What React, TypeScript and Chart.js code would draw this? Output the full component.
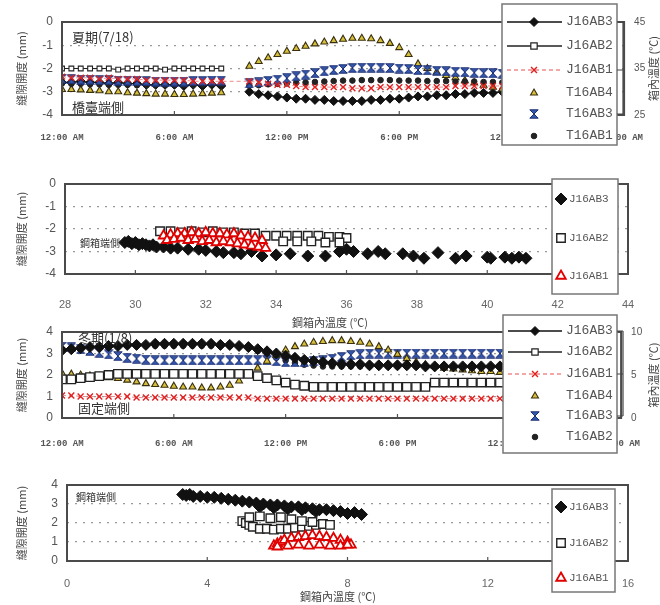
import React, { useEffect, useRef } from "react";
import { Chart, registerables } from "chart.js";

Chart.register(...registerables);

// ---------------- data ----------------
const HOURS = [0, 0.5, 1, 1.5, 2, 2.5, 3, 3.5, 4, 4.5, 5, 5.5, 6, 6.5, 7, 7.5, 8, 8.5, 9, 9.5, 10, 10.5, 11, 11.5, 12, 12.5, 13, 13.5, 14, 14.5, 15, 15.5, 16, 16.5, 17, 17.5, 18, 18.5, 19, 19.5, 20, 20.5, 21, 21.5, 22, 22.5, 23, 23.5, 24];
const TIME_TICK_LABELS = ["12:00 AM", "6:00 AM", "12:00 PM", "6:00 PM", "12:00 AM", "6:00 AM"];

// Summer (7/18) time series — displacement (mm) on left axis, temperature (°C) on right axis
const SUMMER_J16AB3 = [-2.6, -2.6, -2.55, -2.6, -2.6, -2.65, -2.6, -2.65, -2.65, -2.7, -2.7, -2.7, -2.7, -2.75, -2.7, -2.75, -2.7, -2.75, null, null, -3.0, -3.1, -3.15, -3.2, -3.25, -3.3, -3.3, -3.35, -3.35, -3.4, -3.4, -3.4, -3.4, -3.35, -3.35, -3.3, -3.3, -3.25, -3.2, -3.2, -3.15, -3.15, -3.1, -3.1, -3.05, -3.05, -3.05, -3.0, -3.0];
const SUMMER_J16AB2 = [-2.0, -2.0, -2.0, -2.0, -2.0, -2.0, -2.05, -2.0, -2.0, -2.0, -2.0, -2.05, -2.0, -2.0, -2.0, -2.0, -2.0, -2.0, null, null, null, null, null, null, null, null, null, null, null, null, null, null, null, null, null, null, null, null, null, null, null, null, null, null, null, null, null, null, null];
const SUMMER_J16AB1 = [-2.35, -2.4, -2.4, -2.4, -2.45, -2.4, -2.45, -2.45, -2.45, -2.5, -2.5, -2.5, -2.5, -2.5, -2.55, -2.55, -2.55, -2.55, null, null, -2.55, -2.6, -2.65, -2.7, -2.7, -2.75, -2.8, -2.8, -2.8, -2.8, -2.8, -2.85, -2.85, -2.85, -2.8, -2.8, -2.8, -2.8, -2.8, -2.8, -2.8, -2.8, -2.75, -2.75, -2.75, -2.75, -2.75, -2.75, -2.75];
const SUMMER_T16AB4 = [30.5, 30.5, 30.4, 30.3, 30.2, 30.0, 30.0, 29.8, 29.7, 29.6, 29.5, 29.5, 29.4, 29.4, 29.5, 29.6, 29.7, 29.8, null, null, 35.5, 36.5, 37.3, 38.0, 38.7, 39.3, 39.8, 40.3, 40.7, 41.0, 41.3, 41.5, 41.5, 41.4, 41.0, 40.4, 39.5, 38.0, 36.0, 35.0, 34.2, 33.5, 33.0, 32.4, 31.9, 31.4, 31.0, 30.6, 30.3];
const SUMMER_T16AB3 = [32.8, 32.7, 32.6, 32.6, 32.5, 32.5, 32.4, 32.4, 32.3, 32.3, 32.2, 32.2, 32.2, 32.2, 32.3, 32.3, 32.4, 32.4, null, null, 31.8, 32.0, 32.3, 32.6, 32.9, 33.3, 33.7, 34.0, 34.4, 34.7, 34.9, 35.1, 35.2, 35.2, 35.2, 35.1, 35.0, 34.9, 34.7, 34.6, 34.5, 34.4, 34.3, 34.2, 34.1, 34.0, 34.0, 33.9, 33.8];
const SUMMER_T16AB1 = [31.8, 31.7, 31.7, 31.6, 31.6, 31.5, 31.5, 31.5, 31.4, 31.4, 31.4, 31.4, 31.4, 31.5, 31.5, 31.5, 31.6, 31.6, null, null, 31.3, 31.4, 31.6, 31.7, 31.8, 31.9, 32.0, 32.1, 32.2, 32.3, 32.4, 32.4, 32.5, 32.5, 32.5, 32.5, 32.4, 32.4, 32.4, 32.3, 32.3, 32.3, 32.2, 32.2, 32.2, 32.1, 32.1, 32.0, 32.0];

// Summer scatter: box temperature (°C) vs displacement (mm)
const SUMMER_J16AB3_TEMP = [29.7, 29.8, 29.9, 30.0, 30.1, 30.2, 30.3, 30.4, 30.5, 30.6, 30.8, 31.0, 31.2, 31.5, 31.8, 32.0, 32.3, 32.5, 32.8, 33.0, 33.3, 33.6, 34.0, 34.4, 34.9, 35.4, 35.8, 36.0, 36.2, 36.6, 36.9, 37.1, 37.6, 37.9, 38.2, 38.6, 39.1, 39.4, 40.0, 40.1, 40.5, 40.7, 40.9, 41.1];
const SUMMER_J16AB3_DISP = [-2.6, -2.55, -2.65, -2.6, -2.7, -2.65, -2.7, -2.75, -2.7, -2.8, -2.8, -2.85, -2.85, -2.9, -2.9, -2.95, -3.0, -3.05, -3.05, -3.1, -3.0, -3.2, -3.15, -3.1, -3.2, -3.2, -3.0, -2.9, -3.0, -3.1, -3.0, -3.1, -3.1, -3.2, -3.3, -3.05, -3.3, -3.2, -3.25, -3.3, -3.25, -3.3, -3.25, -3.3];
const SUMMER_J16AB2_TEMP = [30.7, 31.0, 31.3, 31.6, 31.9, 32.2, 32.5, 32.8, 33.1, 33.4, 33.7, 34.0, 34.3, 34.6, 34.9, 35.2, 35.5, 35.8, 36.0, 34.2, 34.6, 35.0, 35.4, 35.8];
const SUMMER_J16AB2_DISP = [-2.1, -2.1, -2.15, -2.1, -2.15, -2.1, -2.15, -2.15, -2.2, -2.2, -2.3, -2.3, -2.3, -2.3, -2.3, -2.3, -2.35, -2.35, -2.4, -2.55, -2.55, -2.55, -2.6, -2.6];
const SUMMER_J16AB1_TEMP = [30.8, 31.0, 31.2, 31.4, 31.6, 31.8, 32.0, 32.2, 32.4, 32.6, 32.8, 33.0, 33.2, 33.4, 33.6, 30.9, 31.1, 31.3, 31.5, 31.7, 31.9, 32.1, 32.3, 32.5, 32.7, 32.9, 33.1, 33.3, 33.5, 33.7];
const SUMMER_J16AB1_DISP = [-2.3, -2.25, -2.2, -2.2, -2.15, -2.2, -2.15, -2.2, -2.2, -2.25, -2.2, -2.3, -2.35, -2.4, -2.5, -2.5, -2.45, -2.4, -2.5, -2.45, -2.55, -2.5, -2.6, -2.55, -2.6, -2.65, -2.7, -2.75, -2.8, -2.85];

// Winter (1/8) time series
const WINTER_J16AB3 = [3.15, 3.2, 3.25, 3.3, 3.3, 3.35, 3.35, 3.4, 3.4, 3.4, 3.45, 3.45, 3.45, 3.45, 3.45, 3.45, 3.45, 3.4, 3.4, 3.35, 3.3, 3.2, 3.1, 3.0, 2.9, 2.8, 2.7, 2.65, 2.6, 2.55, 2.5, 2.5, 2.5, 2.45, 2.45, 2.45, 2.45, 2.45, 2.45, 2.4, 2.4, 2.4, 2.4, 2.4, 2.4, 2.4, 2.4, 2.4, 2.4];
const WINTER_J16AB2 = [1.8, 1.8, 1.85, 1.9, 1.95, 2.0, 2.05, 2.05, 2.05, 2.05, 2.05, 2.05, 2.05, 2.05, 2.05, 2.05, 2.05, 2.05, 2.05, 2.05, 2.05, 1.95, 1.85, 1.75, 1.65, 1.55, 1.5, 1.45, 1.45, 1.45, 1.45, 1.45, 1.45, 1.45, 1.45, 1.45, 1.45, 1.45, 1.45, 1.45, 1.65, 1.65, 1.65, 1.65, 1.65, 1.65, 1.65, 1.65, 1.65];
const WINTER_J16AB1 = [1.05, 1.05, 1.0, 1.0, 1.0, 1.0, 1.0, 1.0, 0.95, 0.95, 0.95, 0.95, 0.95, 0.95, 0.95, 0.95, 0.95, 0.95, 0.95, 0.95, 0.95, 0.9, 0.9, 0.9, 0.9, 0.9, 0.9, 0.9, 0.9, 0.9, 0.9, 0.9, 0.9, 0.9, 0.9, 0.9, 0.9, 0.9, 0.9, 0.9, 0.9, 0.9, 0.9, 0.9, 0.9, 0.9, 0.9, 0.9, 0.9];
const WINTER_T16AB4 = [5.2, 5.1, 5.0, 4.9, 4.8, 4.7, 4.6, 4.4, 4.2, 4.0, 3.9, 3.8, 3.7, 3.6, 3.6, 3.5, 3.5, 3.6, 3.8, 4.3, 5.0, 5.8, 6.6, 7.3, 7.9, 8.3, 8.6, 8.8, 8.9, 9.0, 9.0, 8.9, 8.8, 8.6, 8.3, 7.9, 7.4, 6.9, 6.5, 6.2, 6.0, 5.8, 5.7, 5.6, 5.5, 5.4, 5.4, 5.3, 5.3];
const WINTER_T16AB3 = [8.3, 8.2, 8.0, 7.8, 7.6, 7.4, 7.2, 7.0, 6.9, 6.8, 6.7, 6.7, 6.7, 6.7, 6.7, 6.7, 6.7, 6.7, 6.7, 6.7, 6.7, 6.7, 6.7, 6.6, 6.5, 6.5, 6.5, 6.6, 6.7, 6.9, 7.1, 7.3, 7.4, 7.5, 7.5, 7.5, 7.5, 7.5, 7.5, 7.5, 7.5, 7.5, 7.5, 7.5, 7.5, 7.5, 7.5, 7.5, 7.5];
const WINTER_T16AB2 = [8.0, 8.1, 8.2, 8.3, 8.4, 8.4, 8.4, 8.4, 8.4, 8.4, 8.4, 8.4, 8.4, 8.4, 8.4, 8.4, 8.4, 8.4, 8.4, 8.4, 8.2, 7.8, 7.4, 7.0, 6.7, 6.4, 6.2, 6.1, 6.0, 6.0, 6.0, 6.0, 6.0, 6.0, 6.0, 6.0, 6.0, 6.0, 6.0, 6.0, 6.0, 6.0, 6.0, 6.0, 6.0, 6.0, 6.0, 6.0, 6.0];

// Winter scatter
const WINTER_J16AB3_TEMP = [3.3, 3.4, 3.5, 3.6, 3.8, 4.0, 4.2, 4.4, 4.6, 4.8, 5.0, 5.2, 5.4, 5.6, 5.8, 6.0, 6.2, 6.4, 6.6, 6.8, 7.0, 7.2, 7.4, 7.6, 7.8, 8.0, 8.2, 8.4, 5.5, 5.9, 6.3, 6.7, 7.1];
const WINTER_J16AB3_DISP = [3.5, 3.45, 3.5, 3.4, 3.4, 3.35, 3.35, 3.3, 3.25, 3.2, 3.15, 3.1, 3.05, 3.0, 2.95, 2.95, 2.9, 2.85, 2.85, 2.8, 2.75, 2.7, 2.7, 2.65, 2.6, 2.5, 2.55, 2.45, 2.85, 2.8, 2.75, 2.7, 2.6];
const WINTER_J16AB2_TEMP = [5.0, 5.1, 5.2, 5.3, 5.5, 5.7, 5.9, 6.1, 6.3, 6.5, 6.7, 6.9, 7.1, 7.3, 7.5, 5.2, 5.5, 5.8, 6.1, 6.4, 6.7, 7.0];
const WINTER_J16AB2_DISP = [2.1, 2.0, 1.9, 1.8, 1.7, 1.7, 1.65, 1.7, 1.7, 1.75, 1.8, 1.85, 1.9, 1.95, 1.9, 2.3, 2.35, 2.25, 2.3, 2.2, 2.1, 2.05];
const WINTER_J16AB1_TEMP = [5.9, 6.0, 6.1, 6.2, 6.4, 6.6, 6.8, 7.0, 7.2, 7.4, 7.6, 7.8, 8.0, 8.1, 6.0, 6.3, 6.6, 6.9, 7.2, 7.5, 7.8, 8.0];
const WINTER_J16AB1_DISP = [0.8, 0.9, 1.0, 1.1, 1.2, 1.25, 1.3, 1.35, 1.3, 1.25, 1.2, 1.1, 1.0, 0.85, 0.75, 0.8, 0.85, 0.8, 0.85, 0.8, 0.8, 0.85];

// ---------------- styles / helpers ----------------
const W = 660;
const CJK = "'Noto Sans CJK TC', 'Noto Sans CJK JP', sans-serif";
const MONO = "'Liberation Mono', 'DejaVu Sans Mono', monospace";
const SANS = "'Liberation Sans', Arial, sans-serif";

type Marker = { shape: string; r: number; fill: string; stroke: string; lw: number };
type LineSt = { color: string; width: number; dash?: number[] };
type Style = { marker: Marker; line?: LineSt };

const MK = (shape: string, r: number, fill: string, stroke: string, lw: number): Marker => ({ shape, r, fill, stroke, lw });

function makeHourglass(size: number, fill: string, stroke: string) {
  const c = document.createElement("canvas");
  c.width = size;
  c.height = size;
  const g = c.getContext("2d")!;
  g.beginPath();
  g.moveTo(0.8, 0.8);
  g.lineTo(size - 0.8, 0.8);
  g.lineTo(0.8, size - 0.8);
  g.lineTo(size - 0.8, size - 0.8);
  g.closePath();
  g.fillStyle = fill;
  g.fill();
  g.strokeStyle = stroke;
  g.lineWidth = 1;
  g.stroke();
  return c;
}

function pointStyleOf(m: Marker, img: HTMLCanvasElement): any {
  switch (m.shape) {
    case "diamond": return "rectRot";
    case "square": return "rect";
    case "cross": return "crossRot";
    case "triangle": return "triangle";
    case "circle": return "circle";
    default: return img;
  }
}

function drawMarker(ctx: CanvasRenderingContext2D, m: Marker, x: number, y: number, img: HTMLCanvasElement) {
  ctx.save();
  ctx.fillStyle = m.fill;
  ctx.strokeStyle = m.stroke;
  ctx.lineWidth = m.lw;
  ctx.setLineDash([]);
  const r = m.r;
  ctx.beginPath();
  if (m.shape === "diamond") {
    ctx.moveTo(x, y - r); ctx.lineTo(x + r, y); ctx.lineTo(x, y + r); ctx.lineTo(x - r, y); ctx.closePath();
    ctx.fill(); ctx.stroke();
  } else if (m.shape === "square") {
    const s = r * 0.7071;
    ctx.rect(x - s, y - s, 2 * s, 2 * s); ctx.fill(); ctx.stroke();
  } else if (m.shape === "cross") {
    const d = r * 0.7071;
    ctx.moveTo(x - d, y - d); ctx.lineTo(x + d, y + d); ctx.moveTo(x + d, y - d); ctx.lineTo(x - d, y + d); ctx.stroke();
  } else if (m.shape === "triangle") {
    ctx.moveTo(x, y - r); ctx.lineTo(x + r * 0.866, y + r * 0.5); ctx.lineTo(x - r * 0.866, y + r * 0.5); ctx.closePath();
    ctx.fill(); ctx.stroke();
  } else if (m.shape === "circle") {
    ctx.arc(x, y, r, 0, Math.PI * 2); ctx.fill(); ctx.stroke();
  } else {
    ctx.drawImage(img, x - img.width / 2, y - img.height / 2);
  }
  ctx.restore();
}

function ds(label: string, xs: number[], ys: (number | null)[], st: Style, axis: string, order: number, img: HTMLCanvasElement, spanGaps = false) {
  const m = st.marker;
  return {
    label,
    data: xs.map((x, i) => ({ x, y: ys[i] })),
    yAxisID: axis,
    order,
    pointStyle: pointStyleOf(m, img),
    pointRadius: m.r,
    pointHoverRadius: m.r,
    pointBackgroundColor: m.fill,
    pointBorderColor: m.stroke,
    pointBorderWidth: m.lw,
    showLine: !!st.line,
    borderColor: st.line ? st.line.color : m.stroke,
    borderWidth: st.line ? st.line.width : 0,
    borderDash: st.line && st.line.dash ? st.line.dash : [],
    spanGaps,
    tension: 0,
  };
}

type LegendCfg = {
  x: number; y: number; w: number; h: number; rows: number[];
  lineX1: number; lineX2: number; markerX: number; textX: number; font: string;
  items: { label: string; st: Style }[];
  bracket?: { x: number; from: number; ys: number[] };
};
type TextCfg = { text: string; x: number; y: number; font: string };
type Panel = {
  canvasTop: number; canvasH: number; left: number; right: number; top: number; bottom: number;
  yTitle: string; yTitleX: number; y2Title?: string; y2TitleX?: number;
  xTitle?: string; xTitleX?: number; xTitleY?: number;
  texts: TextCfg[]; legend: LegendCfg;
};

function deco(p: Panel, img: HTMLCanvasElement) {
  return {
    id: "deco",
    afterDraw(chart: any) {
      const ctx: CanvasRenderingContext2D = chart.ctx;
      const a = chart.chartArea;
      const off = p.canvasTop;
      ctx.save();
      // inward tick marks on the bottom axis
      const xs = chart.scales.x;
      ctx.strokeStyle = "#555";
      ctx.lineWidth = 1.2;
      for (const t of xs.ticks) {
        const px = xs.getPixelForValue(t.value);
        if (px > a.left + 3 && px < a.right - 3) {
          ctx.beginPath(); ctx.moveTo(px, a.bottom); ctx.lineTo(px, a.bottom - 4); ctx.stroke();
        }
      }
      // plot frame
      ctx.lineWidth = 2;
      ctx.strokeStyle = "#4a4a4a";
      ctx.strokeRect(a.left, a.top, a.right - a.left, a.bottom - a.top);
      // axis titles
      ctx.fillStyle = "#444";
      ctx.font = `11px ${CJK}`;
      ctx.textAlign = "center";
      ctx.textBaseline = "middle";
      ctx.save();
      ctx.translate(p.yTitleX, (a.top + a.bottom) / 2);
      ctx.rotate(-Math.PI / 2);
      ctx.fillText(p.yTitle, 0, 0);
      ctx.restore();
      if (p.y2Title) {
        ctx.save();
        ctx.translate(p.y2TitleX!, (a.top + a.bottom) / 2);
        ctx.rotate(-Math.PI / 2);
        ctx.fillText(p.y2Title, 0, 0);
        ctx.restore();
      }
      if (p.xTitle) {
        ctx.fillText(p.xTitle, p.xTitleX!, p.xTitleY! - off);
      }
      // annotations in the plot
      ctx.fillStyle = "#333";
      ctx.textAlign = "left";
      for (const t of p.texts) {
        ctx.font = t.font;
        ctx.fillText(t.text, t.x, t.y - off);
      }
      // legend box
      const L = p.legend;
      ctx.fillStyle = "#fff";
      ctx.fillRect(L.x, L.y - off, L.w, L.h);
      ctx.strokeStyle = "#777";
      ctx.lineWidth = 1.5;
      ctx.strokeRect(L.x, L.y - off, L.w, L.h);
      L.items.forEach((it, i) => {
        const y = L.rows[i] - off;
        if (it.st.line) {
          ctx.save();
          ctx.strokeStyle = it.st.line.color;
          ctx.lineWidth = it.st.line.width + 0.3;
          ctx.setLineDash(it.st.line.dash || []);
          ctx.beginPath(); ctx.moveTo(L.lineX1, y); ctx.lineTo(L.lineX2, y); ctx.stroke();
          ctx.restore();
        }
        drawMarker(ctx, it.st.marker, L.markerX, y, img);
        ctx.fillStyle = "#555";
        ctx.font = L.font;
        ctx.textAlign = "left";
        ctx.textBaseline = "middle";
        ctx.fillText(it.label, L.textX, y);
      });
      if (L.bracket) {
        const b = L.bracket;
        ctx.strokeStyle = "#444";
        ctx.lineWidth = 1.2;
        ctx.beginPath();
        ctx.moveTo(b.x, b.ys[0] - off);
        ctx.lineTo(b.x, b.ys[b.ys.length - 1] - off);
        for (const yy of b.ys) { ctx.moveTo(b.from, yy - off); ctx.lineTo(b.x, yy - off); }
        ctx.stroke();
      }
      ctx.restore();
    },
  };
}

function yScale(min: number, max: number, step: number, p: Panel, grid: boolean) {
  return {
    type: "linear",
    position: "left",
    min, max,
    ticks: { stepSize: step, padding: 9, font: { family: SANS, size: 12 }, color: "#555" },
    grid: grid ? { color: "#9a9a9a", lineWidth: 1.3, drawTicks: false } : { display: false, drawTicks: false },
    border: { display: false, dash: [2, 6] },
    afterFit: (s: any) => { s.width = p.left; },
  };
}

function buildTimeChart(canvas: HTMLCanvasElement, p: Panel, datasets: any[], yMin: number, yMax: number, y2Min: number, y2Max: number, y2Step: number, img: HTMLCanvasElement) {
  return new Chart(canvas, {
    type: "scatter",
    data: { datasets },
    options: {
      responsive: false,
      animation: false,
      events: [],
      layout: { padding: { top: p.top - p.canvasTop, left: 0, right: 0, bottom: 0 } },
      plugins: { legend: { display: false }, tooltip: { enabled: false } },
      scales: {
        x: {
          type: "linear", min: 0, max: 30,
          ticks: {
            stepSize: 6, padding: p.bottom === 115 ? 17 : 20, maxRotation: 0, autoSkip: false,
            font: { family: MONO, size: 9, weight: "bold" }, color: "#555",
            callback: (v: any) => TIME_TICK_LABELS[Math.round(Number(v) / 6)],
          },
          grid: { display: false, drawTicks: false },
          border: { display: false },
          afterFit: (s: any) => { s.height = p.canvasTop + p.canvasH - p.bottom; },
        },
        y: yScale(yMin, yMax, 1, p, true),
        y2: {
          type: "linear", position: "right", min: y2Min, max: y2Max,
          ticks: { stepSize: y2Step, padding: 10, font: { family: SANS, size: 10 }, color: "#555" },
          grid: { display: false, drawTicks: false },
          border: { display: false },
          afterFit: (s: any) => { s.width = W - p.right; },
        },
      },
    } as any,
    plugins: [deco(p, img) as any],
  });
}

function buildScatterChart(canvas: HTMLCanvasElement, p: Panel, datasets: any[], xMin: number, xMax: number, xStep: number, yMin: number, yMax: number, tickPad: number, img: HTMLCanvasElement) {
  return new Chart(canvas, {
    type: "scatter",
    data: { datasets },
    options: {
      responsive: false,
      animation: false,
      events: [],
      layout: { padding: { top: p.top - p.canvasTop, left: 0, right: W - p.right, bottom: 0 } },
      plugins: { legend: { display: false }, tooltip: { enabled: false } },
      scales: {
        x: {
          type: "linear", min: xMin, max: xMax,
          ticks: { stepSize: xStep, padding: tickPad, maxRotation: 0, autoSkip: false, font: { family: SANS, size: 11 }, color: "#666" },
          grid: { display: false, drawTicks: false },
          border: { display: false },
          afterFit: (s: any) => { s.height = p.canvasTop + p.canvasH - p.bottom; },
        },
        y: yScale(yMin, yMax, 1, p, true),
      },
    } as any,
    plugins: [deco(p, img) as any],
  });
}

// series styles
const ST_J3: Style = { marker: MK("diamond", 4.5, "#111", "#111", 1), line: { color: "#111", width: 1.3 } };
const ST_J2: Style = { marker: MK("square", 4.5, "#fff", "#222", 1.2), line: { color: "#222", width: 1 } };
const ST_J2s: Style = { marker: MK("square", 3.4, "#fff", "#222", 1.1), line: { color: "#222", width: 1.2 } };
const ST_J1: Style = { marker: MK("cross", 4.2, "#e02020", "#e02020", 1.4), line: { color: "#f08a8a", width: 1, dash: [4, 3] } };
const ST_T4: Style = { marker: MK("triangle", 4, "#d6bf3a", "#3a3010", 1.1) };
const ST_T3: Style = { marker: MK("hourglass", 4.5, "#3558b0", "#1c2f70", 1) };
const ST_T1: Style = { marker: MK("circle", 2.8, "#222", "#222", 1) };

const ST_J3w: Style = { marker: MK("diamond", 5.5, "#111", "#111", 1), line: { color: "#111", width: 1.3 } };
const ST_J2w: Style = { marker: MK("square", 6, "#fff", "#222", 1.3), line: { color: "#222", width: 1.2 } };

const ST_SC_J3: Style = { marker: MK("diamond", 6, "#111", "#111", 1) };
const ST_SC_J2: Style = { marker: MK("square", 6, "#fff", "#222", 1.4) };
const ST_SC_J1: Style = { marker: MK("triangle", 5.5, "#fff", "#e00000", 1.8) };

const P1: Panel = {
  canvasTop: 0, canvasH: 160, left: 62, right: 626, top: 22, bottom: 115,
  yTitle: "縫隙開度 (mm)", yTitleX: 22, y2Title: "箱內溫度 (℃)", y2TitleX: 654,
  texts: [
    { text: "夏期(7/18)", x: 72, y: 37, font: `13px ${CJK}` },
    { text: "橋臺端側", x: 72, y: 107, font: `13px ${CJK}` },
  ],
  legend: {
    x: 502, y: 4, w: 115, h: 141, rows: [22, 46, 70, 93, 114, 136],
    lineX1: 507, lineX2: 562, markerX: 534, textX: 566, font: `13px ${MONO}`,
    items: [
      { label: "J16AB3", st: ST_J3 }, { label: "J16AB2", st: ST_J2 }, { label: "J16AB1", st: ST_J1 },
      { label: "T16AB4", st: ST_T4 }, { label: "T16AB3", st: ST_T3 }, { label: "T16AB1", st: ST_T1 },
    ],
    bracket: { x: 623, from: 617, ys: [22, 70, 114] },
  },
};

const P2: Panel = {
  canvasTop: 160, canvasH: 180, left: 65, right: 628, top: 184, bottom: 274,
  yTitle: "縫隙開度 (mm)", yTitleX: 22,
  xTitle: "鋼箱內溫度 (℃)", xTitleX: 330, xTitleY: 323,
  texts: [{ text: "鋼箱端側", x: 80, y: 243, font: `10px ${CJK}` }],
  legend: {
    x: 552, y: 179, w: 66, h: 115, rows: [199, 238, 276],
    lineX1: 0, lineX2: 0, markerX: 561, textX: 569, font: `11px ${MONO}`,
    items: [{ label: "J16AB3", st: ST_SC_J3 }, { label: "J16AB2", st: ST_SC_J2 }, { label: "J16AB1", st: ST_SC_J1 }],
  },
};

const P3: Panel = {
  canvasTop: 310, canvasH: 160, left: 62, right: 626, top: 332, bottom: 418,
  yTitle: "縫隙開度 (mm)", yTitleX: 22, y2Title: "箱內溫度 (℃)", y2TitleX: 654,
  texts: [
    { text: "冬期(1/8)", x: 78, y: 338, font: `13px ${CJK}` },
    { text: "固定端側", x: 78, y: 408, font: `13px ${CJK}` },
  ],
  legend: {
    x: 503, y: 315, w: 114, h: 138, rows: [331, 352, 374, 396, 416, 437],
    lineX1: 508, lineX2: 562, markerX: 535, textX: 566, font: `13px ${MONO}`,
    items: [
      { label: "J16AB3", st: ST_J3 }, { label: "J16AB2", st: ST_J2 }, { label: "J16AB1", st: ST_J1 },
      { label: "T16AB4", st: ST_T4 }, { label: "T16AB3", st: ST_T3 }, { label: "T16AB2", st: ST_T1 },
    ],
    bracket: { x: 623, from: 617, ys: [331, 374, 416] },
  },
};

const P4: Panel = {
  canvasTop: 465, canvasH: 140, left: 67, right: 628, top: 485, bottom: 561,
  yTitle: "縫隙開度 (mm)", yTitleX: 22,
  xTitle: "鋼箱內溫度 (℃)", xTitleX: 338, xTitleY: 597,
  texts: [{ text: "鋼箱端側", x: 76, y: 497, font: `10px ${CJK}` }],
  legend: {
    x: 552, y: 489, w: 63, h: 103, rows: [507, 543, 578],
    lineX1: 0, lineX2: 0, markerX: 561, textX: 569, font: `11px ${MONO}`,
    items: [{ label: "J16AB3", st: ST_SC_J3 }, { label: "J16AB2", st: ST_SC_J2 }, { label: "J16AB1", st: ST_SC_J1 }],
  },
};

export default function App() {
  const c1 = useRef<HTMLCanvasElement>(null);
  const c2 = useRef<HTMLCanvasElement>(null);
  const c3 = useRef<HTMLCanvasElement>(null);
  const c4 = useRef<HTMLCanvasElement>(null);

  useEffect(() => {
    const hg = makeHourglass(10, "#3558b0", "#1c2f70");

    const ds1 = [
      ds("J16AB3", HOURS, SUMMER_J16AB3, ST_J3, "y", 5, hg),
      ds("J16AB2", HOURS, SUMMER_J16AB2, ST_J2s, "y", 4, hg),
      ds("J16AB1", HOURS, SUMMER_J16AB1, ST_J1, "y", 0, hg, true),
      ds("T16AB4", HOURS, SUMMER_T16AB4, ST_T4, "y2", 3, hg),
      ds("T16AB3", HOURS, SUMMER_T16AB3, ST_T3, "y2", 1, hg),
      ds("T16AB1", HOURS, SUMMER_T16AB1, ST_T1, "y2", 2, hg),
    ];
    const ds2 = [
      ds("J16AB3", SUMMER_J16AB3_TEMP, SUMMER_J16AB3_DISP, ST_SC_J3, "y", 2, hg),
      ds("J16AB2", SUMMER_J16AB2_TEMP, SUMMER_J16AB2_DISP, ST_SC_J2, "y", 1, hg),
      ds("J16AB1", SUMMER_J16AB1_TEMP, SUMMER_J16AB1_DISP, ST_SC_J1, "y", 0, hg),
    ];
    const ds3 = [
      ds("J16AB3", HOURS, WINTER_J16AB3, ST_J3w, "y", 0, hg),
      ds("J16AB2", HOURS, WINTER_J16AB2, ST_J2w, "y", 1, hg),
      ds("J16AB1", HOURS, WINTER_J16AB1, ST_J1, "y", 4, hg),
      ds("T16AB4", HOURS, WINTER_T16AB4, ST_T4, "y2", 2, hg),
      ds("T16AB3", HOURS, WINTER_T16AB3, ST_T3, "y2", 3, hg),
      ds("T16AB2", HOURS, WINTER_T16AB2, ST_T1, "y2", 5, hg),
    ];
    const ds4 = [
      ds("J16AB3", WINTER_J16AB3_TEMP, WINTER_J16AB3_DISP, ST_SC_J3, "y", 2, hg),
      ds("J16AB2", WINTER_J16AB2_TEMP, WINTER_J16AB2_DISP, ST_SC_J2, "y", 1, hg),
      ds("J16AB1", WINTER_J16AB1_TEMP, WINTER_J16AB1_DISP, ST_SC_J1, "y", 0, hg),
    ];

    const charts = [
      buildTimeChart(c1.current!, P1, ds1, -4, 0, 25, 45, 10, hg),
      buildScatterChart(c2.current!, P2, ds2, 28, 44, 2, -4, 0, 24, hg),
      buildTimeChart(c3.current!, P3, ds3, 0, 4, 0, 10, 5, hg),
      buildScatterChart(c4.current!, P4, ds4, 0, 16, 4, 0, 4, 16, hg),
    ];
    return () => charts.forEach((c) => c.destroy());
  }, []);

  const cs = (top: number, h: number): React.CSSProperties => ({ position: "absolute", left: 0, top, width: W, height: h });

  return (
    <div style={{ position: "fixed", left: 0, top: 0, width: W, height: 605, background: "#fff", overflow: "hidden" }}>
      <canvas ref={c1} width={W} height={P1.canvasH} style={cs(P1.canvasTop, P1.canvasH)} />
      <canvas ref={c2} width={W} height={P2.canvasH} style={cs(P2.canvasTop, P2.canvasH)} />
      <canvas ref={c3} width={W} height={P3.canvasH} style={cs(P3.canvasTop, P3.canvasH)} />
      <canvas ref={c4} width={W} height={P4.canvasH} style={cs(P4.canvasTop, P4.canvasH)} />
    </div>
  );
}
